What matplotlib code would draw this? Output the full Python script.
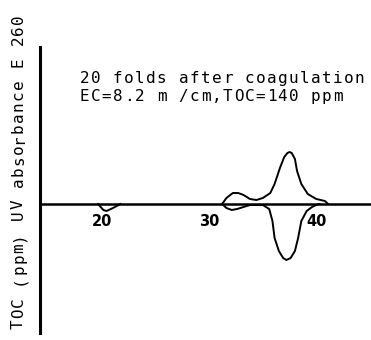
import matplotlib
matplotlib.use('Agg')
import matplotlib.pyplot as plt

W, H = 371, 340

# UV absorbance (upper trace), elution position vs signal
UV_X = [31.2, 31.6, 32.2, 32.7, 33.2, 33.8, 34.4, 35.0, 35.7, 36.1, 36.6, 37.0,
        37.3, 37.5, 37.7, 38.0, 38.2, 38.6, 39.2, 40.0, 40.8, 41.1]
UV_Y = [0, 6, 11, 11, 9, 5, 4, 6, 11, 20, 36, 47, 51, 52, 51, 45, 33, 20, 10, 5, 3, 0]

# TOC (lower trace, drawn downward)
TOC_X = [19.6, 20.1, 20.4, 21.0, 21.7]
TOC_Y = [0, -6, -7, -4, 0]
TOC2_X = [31.2, 31.6, 32.1, 32.6, 33.2, 33.8, 35.0, 35.6, 35.9, 36.1, 36.5, 36.9,
          37.2, 37.6, 38.0, 38.3, 38.6, 39.1, 39.6, 40.0, 40.3]
TOC2_Y = [0, -4, -6, -5, -3, -1, -1, -5, -17, -34, -47, -54, -56, -54, -47, -34,
          -17, -7, -3, -1, 0]

XTICKS = [20, 30, 40]
TITLE1 = "20 folds after coagulation"
TITLE2 = "EC=8.2 m /cm,TOC=140 ppm"
YLABEL = "TOC (ppm) UV absorbance E 260"

fig = plt.figure(figsize=(W / 100, H / 100), dpi=100)
ax = fig.add_axes([0, 0, 1, 1])
ax.set_xlim(10.44, 45.11)
ax.set_ylim(-136, 204)

for xs, ys in [(UV_X, UV_Y), (TOC_X, TOC_Y), (TOC2_X, TOC2_Y)]:
    ax.plot(xs, ys, color='black', lw=1.4, solid_joinstyle='round')

for s in ['top', 'right']:
    ax.spines[s].set_visible(False)
ax.spines['left'].set_position(('data', 14.2))
ax.spines['left'].set_bounds(-129, 157)
ax.spines['left'].set_linewidth(2.2)
ax.spines['bottom'].set_position(('data', 0))
ax.spines['bottom'].set_bounds(14.2, 45.11)
ax.spines['bottom'].set_linewidth(1.8)
ax.set_yticks([])
ax.set_xticks(XTICKS)
ax.set_xticklabels([str(t) for t in XTICKS], fontsize=10.5, fontweight='bold')
ax.tick_params(axis='x', length=0, pad=7)
ax.patch.set_alpha(0)


def spaced(s, x0, y0, pitch, vertical=False, size=11.5):
    # plotter-style monospace text, one glyph per cell
    for i, ch in enumerate(s):
        if ch == ' ':
            continue
        if vertical:
            fig.text(x0 / W, 1 - (y0 - i * pitch) / H, ch, rotation=90,
                     rotation_mode='anchor', ha='center', va='baseline',
                     family='DejaVu Sans Mono', fontsize=size)
        else:
            fig.text((x0 + i * pitch) / W, 1 - y0 / H, ch, ha='center',
                     va='baseline', family='DejaVu Sans Mono', fontsize=size)


spaced(TITLE1, 84.5, 83, 11.0)
spaced(TITLE2, 84.5, 101, 11.0)
spaced(YLABEL, 23, 324, 10.9, vertical=True)

fig.savefig('out.png', dpi=100)
